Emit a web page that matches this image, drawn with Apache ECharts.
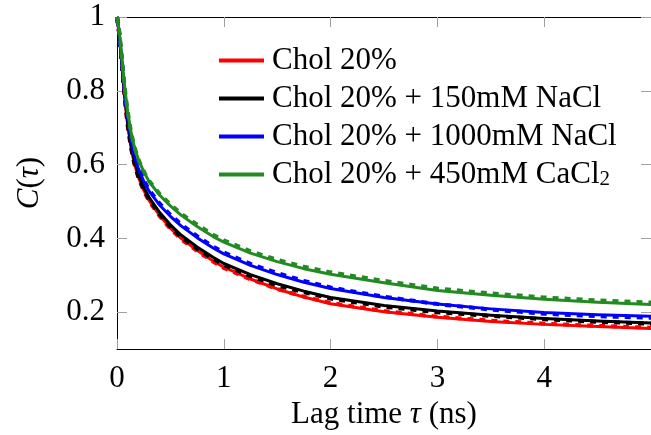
<!DOCTYPE html>
<html>
<head>
<meta charset="utf-8">
<script src="https://cdn.jsdelivr.net/npm/echarts@6/dist/echarts.min.js"></script>
<style>html,body{margin:0;padding:0;background:#fff}#c{width:651px;height:435px}</style>
</head>
<body>
<div id="c"></div>
<script>
// ---- data ----
const lagTime = [0, 0.02, 0.04, 0.06, 0.08, 0.1, 0.13, 0.16, 0.2, 0.25, 0.3, 0.4, 0.5, 0.6, 0.75, 0.9, 1.0, 1.25, 1.5, 1.75, 2.0, 2.5, 3.0, 3.5, 4.0, 4.5, 5.0];
const chol20      = [1.0, 0.955, 0.890, 0.820, 0.760, 0.707, 0.648, 0.606, 0.566, 0.531, 0.503, 0.462, 0.428, 0.400, 0.368, 0.339, 0.322, 0.290, 0.263, 0.241, 0.223, 0.201, 0.186, 0.175, 0.167, 0.161, 0.156];
const chol20Fit   = [1.0, 0.955, 0.890, 0.820, 0.758, 0.705, 0.646, 0.604, 0.564, 0.529, 0.501, 0.460, 0.426, 0.398, 0.366, 0.337, 0.320, 0.289, 0.263, 0.242, 0.225, 0.203, 0.188, 0.177, 0.169, 0.163, 0.158];
const nacl150     = [1.0, 0.957, 0.893, 0.824, 0.764, 0.713, 0.655, 0.613, 0.573, 0.538, 0.511, 0.470, 0.437, 0.409, 0.377, 0.349, 0.332, 0.302, 0.277, 0.257, 0.240, 0.218, 0.203, 0.192, 0.183, 0.176, 0.171];
const nacl150Fit  = [1.0, 0.957, 0.893, 0.823, 0.762, 0.710, 0.651, 0.608, 0.568, 0.533, 0.506, 0.465, 0.432, 0.404, 0.372, 0.345, 0.328, 0.298, 0.273, 0.254, 0.237, 0.215, 0.200, 0.190, 0.181, 0.174, 0.169];
const nacl1000    = [1.0, 0.960, 0.898, 0.832, 0.775, 0.725, 0.668, 0.627, 0.589, 0.555, 0.528, 0.490, 0.460, 0.434, 0.402, 0.374, 0.358, 0.327, 0.302, 0.281, 0.264, 0.240, 0.222, 0.209, 0.199, 0.193, 0.189];
const nacl1000Fit = [1.0, 0.960, 0.898, 0.833, 0.777, 0.728, 0.672, 0.631, 0.593, 0.559, 0.532, 0.494, 0.464, 0.438, 0.406, 0.378, 0.362, 0.331, 0.306, 0.285, 0.267, 0.242, 0.222, 0.207, 0.196, 0.189, 0.185];
const cacl450     = [1.0, 0.965, 0.906, 0.843, 0.790, 0.744, 0.690, 0.651, 0.614, 0.581, 0.554, 0.517, 0.488, 0.463, 0.432, 0.405, 0.390, 0.360, 0.337, 0.318, 0.303, 0.280, 0.259, 0.246, 0.235, 0.227, 0.221];
const cacl450Fit  = [1.0, 0.965, 0.906, 0.843, 0.790, 0.744, 0.690, 0.651, 0.614, 0.582, 0.556, 0.520, 0.492, 0.467, 0.437, 0.410, 0.395, 0.365, 0.342, 0.323, 0.308, 0.285, 0.264, 0.251, 0.240, 0.232, 0.226];
const seriesNames = ['Chol 20%', 'Chol 20% + 150mM NaCl', 'Chol 20% + 1000mM NaCl', 'Chol 20% + 450mM CaCl2'];
const colors = ['#ff0000', '#000000', '#0000ff', '#228b22'];
const xTicks = [0, 1, 2, 3, 4];
const yTicks = [0.2, 0.4, 0.6, 0.8, 1];

const FONT = '"Liberation Serif", "DejaVu Serif", serif';
const pairs = ys => lagTime.map((x, i) => [x, ys[i]]);
const dataSets = [chol20, nacl150, nacl1000, cacl450];
const fitSets = [chol20Fit, nacl150Fit, nacl1000Fit, cacl450Fit];

const series = [];
dataSets.forEach((d, i) => {
  series.push({
    name: seriesNames[i], type: 'line', data: pairs(d), showSymbol: false,
    smooth: false, color: colors[i],
    lineStyle: { width: 3, color: colors[i], join: 'round' }, z: 2 + i * 2, silent: true
  });
  series.push({
    name: seriesNames[i] + ' fit', type: 'line', data: pairs(fitSets[i]), showSymbol: false,
    smooth: false, color: colors[i],
    lineStyle: { width: 4, color: colors[i], type: [6, 6] }, z: 3 + i * 2, silent: true
  });
});

const tickStyle = { show: true, inside: true, length: 10, lineStyle: { color: '#a0a0a0', width: 1 } };
const lineStyle = { show: true, onZero: false, lineStyle: { color: '#000', width: 1 } };

const chart = echarts.init(document.getElementById('c'), null, { renderer: 'canvas' });
chart.setOption({
  animation: false,
  backgroundColor: '#fff',
  grid: { left: 117, top: 17, width: 542, height: 335, containLabel: false },
  legend: {
    data: seriesNames,
    orient: 'vertical', left: 214, top: 40, itemGap: 7,
    icon: 'rect', itemWidth: 45, itemHeight: 4,
    formatter: n => n.endsWith('CaCl2') ? '{t|' + n.slice(0, -1) + '}{s|2}' : '{t|' + n + '}',
    textStyle: {
      fontFamily: FONT, fontSize: 31, color: '#000', padding: [0, 0, 0, 3],
      rich: {
        t: { fontFamily: FONT, fontSize: 31, lineHeight: 31, color: '#000' },
        s: { fontFamily: FONT, fontSize: 21, lineHeight: 31, color: '#000', verticalAlign: 'bottom' }
      }
    }
  },
  xAxis: [{
    type: 'value', min: 0, max: 5, position: 'bottom',
    axisLine: lineStyle,
    axisTick: Object.assign({}, tickStyle, { customValues: xTicks }),
    axisLabel: { customValues: xTicks, fontFamily: FONT, fontSize: 31, color: '#000', margin: 14 },
    splitLine: { show: false },
    name: 'Lag time {i|\u03c4} (ns)', nameLocation: 'middle', nameGap: 45,
    nameTextStyle: { fontFamily: FONT, fontSize: 31, color: '#000',
      rich: { i: { fontFamily: FONT, fontSize: 31, fontStyle: 'italic', color: '#000' } } }
  }, {
    type: 'value', min: 0, max: 5, position: 'top',
    axisLine: lineStyle,
    axisTick: Object.assign({}, tickStyle, { customValues: xTicks }),
    axisLabel: { show: false }, splitLine: { show: false }
  }],
  yAxis: [{
    type: 'value', min: 0.1, max: 1, position: 'left',
    axisLine: lineStyle,
    axisTick: Object.assign({}, tickStyle, { customValues: yTicks }),
    axisLabel: { customValues: yTicks, fontFamily: FONT, fontSize: 31, color: '#000', margin: 12,
      formatter: v => (Math.abs(v - 1) < 1e-9 ? '1' : v.toFixed(1)) },
    splitLine: { show: false },
    name: '{i|C}{n|(}{i|\u03c4}{n|)}', nameLocation: 'middle', nameGap: 72, nameRotate: 90,
    nameTextStyle: { fontFamily: FONT, fontSize: 31, color: '#000',
      rich: { i: { fontFamily: FONT, fontSize: 31, fontStyle: 'italic', color: '#000' },
              n: { fontFamily: FONT, fontSize: 31, color: '#000' } } }
  }, {
    type: 'value', min: 0.1, max: 1, position: 'right',
    axisLine: lineStyle,
    axisTick: Object.assign({}, tickStyle, { customValues: yTicks }),
    axisLabel: { show: false }, splitLine: { show: false }
  }],
  series: series
});
</script>
</body>
</html>
